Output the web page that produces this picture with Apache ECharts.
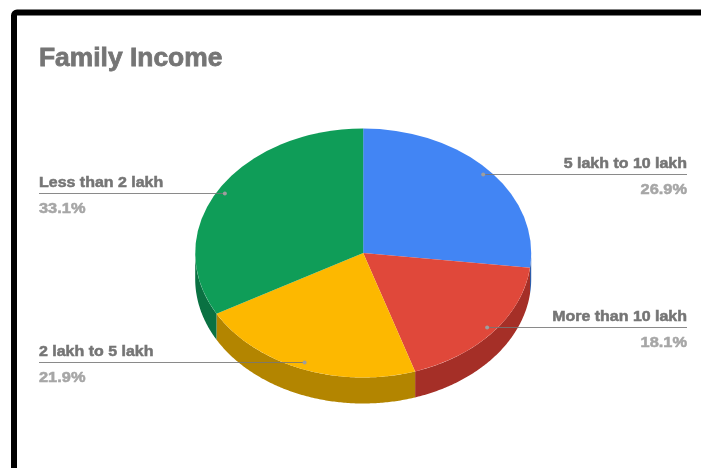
<!DOCTYPE html>
<html>
<head>
<meta charset="utf-8">
<style>html,body{margin:0;padding:0;background:#fff}#chart{width:701px;height:468px}</style>
<script src="https://cdn.jsdelivr.net/npm/echarts@6/dist/echarts.min.js"></script>
</head>
<body>
<div id="chart"></div>
<script>
// Family income shares, clockwise from twelve o'clock
const categories = ['5 lakh to 10 lakh', 'More than 10 lakh', '2 lakh to 5 lakh', 'Less than 2 lakh'];
const shares = [26.9, 18.1, 21.9, 33.1];
const topColors = ['#4285f4', '#e0483a', '#fdb800', '#0f9d58'];
const wallColors = ['#2e5dab', '#a52f27', '#b38500', '#0a7142'];

// Tilted disc geometry
const CX = 363.2, CY = 253, RX = 168, RY = 124.5, DEPTH = 26;
const LEFT_EDGE = 39, RIGHT_EDGE = 687;
const FONT = '"Liberation Sans", Arial, sans-serif';
const NAME_STRETCH = 1.14, PERCENT_STRETCH = 1.17;

const total = shares.reduce((a, b) => a + b, 0);
const TWO_PI = Math.PI * 2;

// Angle measured clockwise from the top of the disc
function startFraction(i) {
  let s = 0;
  for (let k = 0; k < i; k++) s += shares[k];
  return s / total;
}

// Side wall of the part of a slice that faces the viewer
function wallPoints(a0, a1) {
  const from = Math.max(a0, Math.PI / 2);
  const to = Math.min(a1, Math.PI * 1.5);
  if (to <= from) return null;
  const upper = [], lower = [];
  const steps = Math.max(2, Math.ceil((to - from) / 0.01));
  for (let s = 0; s <= steps; s++) {
    const a = from + (to - from) * s / steps;
    const x = CX + RX * Math.sin(a);
    const y = CY - RY * Math.cos(a);
    upper.push([x, y]);
    lower.push([x, y + DEPTH]);
  }
  return upper.concat(lower.reverse());
}

function labelText(text, edge, y, align, fill, stretch) {
  return {
    type: 'text', z2: 4, silent: true,
    x: edge, y: y, scaleX: stretch,
    style: {
      text: text, x: 0, y: 0, fill: fill,
      stroke: fill, lineWidth: 0.5,
      font: 'bold 14px ' + FONT, textAlign: align, textVerticalAlign: 'middle'
    }
  };
}

function renderSlice(params, api) {
  const i = params.dataIndex;
  const value = api.value(0);
  const a0 = startFraction(i) * TWO_PI;
  const a1 = a0 + value / total * TWO_PI;
  const mid = (a0 + a1) / 2;
  const children = [];

  const wall = wallPoints(a0, a1);
  if (wall) {
    children.push({
      type: 'polygon', z2: 1, silent: true,
      shape: { points: wall },
      style: { fill: wallColors[i] }
    });
  }
  children.push({
    type: 'sector', z2: 2, silent: true,
    x: CX, y: CY, scaleY: RY / RX,
    shape: { cx: 0, cy: 0, r: RX, r0: 0, startAngle: a0 - Math.PI / 2, endAngle: a1 - Math.PI / 2, clockwise: true },
    style: { fill: topColors[i] }
  });

  // Leader line from a dot inside the slice out to the label column
  const dotX = CX + RX * 0.955 * Math.sin(mid);
  const lineY = Math.floor(CY - RY * 0.945 * Math.cos(mid)) + 0.5;
  const onRight = Math.sin(mid) > 0;
  const edge = onRight ? RIGHT_EDGE : LEFT_EDGE;
  const align = onRight ? 'right' : 'left';
  children.push({
    type: 'line', z2: 3, silent: true,
    shape: { x1: dotX, y1: lineY, x2: edge, y2: lineY },
    style: { stroke: '#757575', lineWidth: 1, opacity: 0.85 }
  });
  children.push({
    type: 'circle', z2: 3, silent: true,
    shape: { cx: dotX, cy: lineY, r: 2 },
    style: { fill: '#9e9e9e' }
  });
  children.push(labelText(categories[i], edge, lineY - 10.5, align, '#757575', NAME_STRETCH));
  children.push(labelText(value.toFixed(1) + '%', edge, lineY + 15.5, align, '#a6a6a6', PERCENT_STRETCH));
  return { type: 'group', children };
}

const chart = echarts.init(document.getElementById('chart'), null, { renderer: 'canvas' });
chart.setOption({
  animation: false,
  backgroundColor: '#ffffff',
  title: {
    text: 'Family Income', left: 39, top: 46, padding: 0,
    textStyle: {
      color: '#757575', fontSize: 26.4, fontWeight: 'bold', fontFamily: FONT,
      textBorderColor: '#757575', textBorderWidth: 0.8
    }
  },
  graphic: [{
    type: 'rect', silent: true, z: 100,
    shape: { x: 14, y: 12.5, width: 900, height: 700, r: 3 },
    style: { fill: 'none', stroke: '#000000', lineWidth: 6 }
  }],
  series: [{
    type: 'custom',
    coordinateSystem: 'none',
    renderItem: renderSlice,
    data: shares.map(v => [v]),
    silent: true
  }]
});
</script>
</body>
</html>
